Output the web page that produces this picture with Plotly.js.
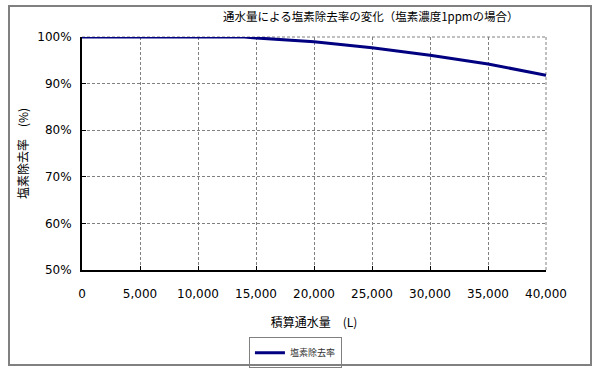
<!DOCTYPE html>
<html>
<head>
<meta charset="utf-8">
<script src="https://cdn.plot.ly/plotly-3.0.1.min.js"></script>
<style>
html,body{margin:0;padding:0;background:#fff;}
#wrap{position:relative;width:600px;height:372px;}
#chart{width:600px;height:372px;}
#frame{position:absolute;left:8px;top:5px;width:580px;height:357px;border:2px solid #808080;pointer-events:none;}
</style>
</head>
<body>
<div id="wrap"><div id="chart"></div><div id="frame"></div></div>
<script>
const volume = [0, 5000, 10000, 14000, 15000, 20000, 25000, 30000, 35000, 40000];
const removalRate = [100, 100, 100, 100, 99.8, 99.0, 97.7, 96.1, 94.2, 91.8];
const xTicks = [0, 5000, 10000, 15000, 20000, 25000, 30000, 35000, 40000];
const xTickText = ['0', '5,000', '10,000', '15,000', '20,000', '25,000', '30,000', '35,000', '40,000'];
const yTicks = [50, 60, 70, 80, 90, 100];
const yTickText = ['50%', '60%', '70%', '80%', '90%', '100%'];

const jp = '"Noto Sans CJK JP", "DejaVu Sans", sans-serif';
const tickFont = {family: '"DejaVu Sans", Verdana, sans-serif', size: 12, color: '#000'};

const trace = {
  x: volume, y: removalRate, type: 'scatter', mode: 'lines',
  name: '塩素除去率',
  line: {color: '#000080', width: 3}
};

const layout = {
  width: 600, height: 372,
  margin: {l: 82, r: 54, t: 37, b: 102, autoexpand: false},
  paper_bgcolor: '#fff', plot_bgcolor: '#fff',
  title: {text: '通水量による塩素除去率の変化（塩素濃度1ppmの場合）',
          font: {family: jp, size: 11.5, color: '#000'},
          xref: 'container', x: 0.618, xanchor: 'center',
          yref: 'container', y: 0.955, yanchor: 'middle'},
  xaxis: {
    range: [0, 40000], tickvals: xTicks, ticktext: xTickText,
    tickfont: tickFont, ticks: 'inside', ticklen: 4, tickcolor: '#000', tickwidth: 1,
    ticklabelstandoff: 12,
    showline: true, linecolor: '#000', linewidth: 2,
    showgrid: true, gridcolor: '#808080', gridwidth: 1, griddash: '3px,2px',
    zeroline: false, fixedrange: true, automargin: false,
    title: {text: '積算通水量　(L)', font: {family: jp, size: 12, color: '#000'}, standoff: 18}
  },
  yaxis: {
    range: [50, 100], tickvals: yTicks, ticktext: yTickText,
    tickfont: tickFont, ticks: 'inside', ticklen: 4, tickcolor: '#000', tickwidth: 1,
    ticklabelstandoff: 6,
    showline: true, linecolor: '#000', linewidth: 2,
    showgrid: true, gridcolor: '#808080', gridwidth: 1, griddash: '3px,2px',
    zeroline: false, fixedrange: true, automargin: false,
    title: {text: '塩素除去率　(%)', font: {family: jp, size: 12, color: '#000'}, standoff: 6}
  },
  showlegend: true,
  legend: {
    orientation: 'v', xref: 'paper', x: 0.46, xanchor: 'center',
    yref: 'paper', y: -0.355, yanchor: 'middle',
    bgcolor: '#fff', bordercolor: '#808080', borderwidth: 1,
    font: {family: jp, size: 9, color: '#333'},
    itemwidth: 30, tracegroupgap: 0
  },
  shapes: [
    {type: 'line', xref: 'paper', yref: 'paper', x0: 0, x1: 1, y0: 1, y1: 1,
     line: {color: '#808080', width: 1, dash: '3px,2px'}, layer: 'below'},
    {type: 'line', xref: 'paper', yref: 'paper', x0: 1, x1: 1, y0: 0, y1: 1,
     line: {color: '#808080', width: 1, dash: '3px,2px'}, layer: 'below'}
  ]
};

Plotly.newPlot('chart', [trace], layout, {displayModeBar: false, staticPlot: true});
</script>
</body>
</html>
